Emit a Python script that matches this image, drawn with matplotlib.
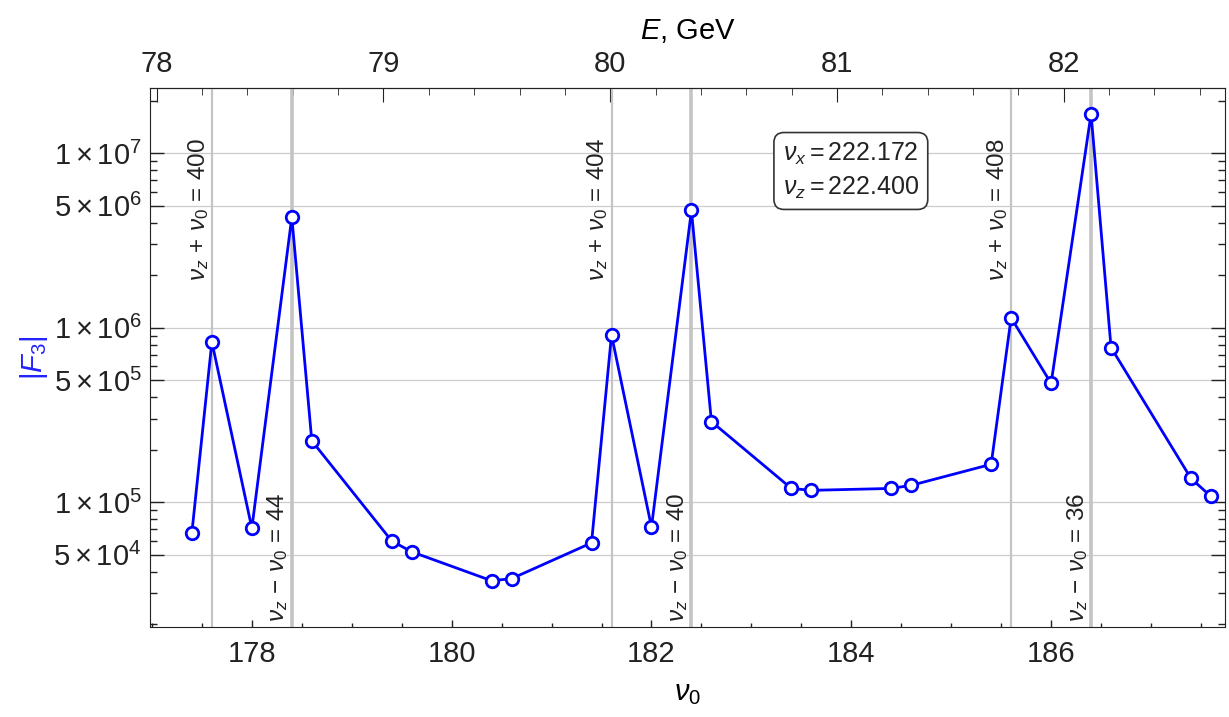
import numpy as np
import matplotlib
matplotlib.use('Agg')
from matplotlib import pyplot as plt
from matplotlib.ticker import FixedLocator, MultipleLocator, NullFormatter

plt.rcParams['font.family'] = ['Liberation Sans', 'DejaVu Sans']
plt.rcParams['mathtext.fontset'] = 'custom'
plt.rcParams['mathtext.rm'] = 'Liberation Sans'
plt.rcParams['mathtext.it'] = 'Liberation Sans:italic'

# spin tune nu0 and |F3|
nu0 = [177.4, 177.6, 178.0, 178.4, 178.6, 179.4, 179.6, 180.4, 180.6, 181.4,
       181.6, 182.0, 182.4, 182.6, 183.4, 183.6, 184.4, 184.6, 185.4, 185.6,
       186.0, 186.4, 186.6, 187.4, 187.6]
f3 = [6.7e4, 8.3e5, 7.1e4, 4.3e6, 2.25e5, 6.0e4, 5.2e4, 3.55e4, 3.65e4, 5.85e4,
      9.1e5, 7.2e4, 4.7e6, 2.9e5, 1.2e5, 1.17e5, 1.2e5, 1.25e5, 1.65e5, 1.14e6,
      4.8e5, 1.68e7, 7.7e5, 1.37e5, 1.08e5]

nu_x = 222.172
nu_z = 222.400
sums = [400, 404, 408]     # nu_z + nu0
diffs = [44, 40, 36]       # nu_z - nu0

gev_per_nu = 0.44056
e_ticks = [78, 79, 80, 81, 82]

fig = plt.figure(figsize=(12.29, 7.17), dpi=100)
ax = fig.add_axes([0.122, 0.1255, 0.8747, 0.7518])

ax.set_yscale('log')
ax.set_xlim(176.98, 187.74)
ax.set_ylim(10 ** 4.285, 10 ** 7.374)

# grid at labelled decades
yticks = [5e4, 1e5, 5e5, 1e6, 5e6, 1e7]
for y in yticks:
    ax.axhline(y, color='#cccccc', lw=0.9, zorder=0)

for s in sums:
    v = s - nu_z
    ax.axvline(v, color='#c4c4c4', lw=1.6, zorder=1)
    ax.text(v - 0.135, 0.775, r'$\nu_z\,+\,\nu_0\,=\,%d$' % s, rotation=90,
            transform=ax.get_xaxis_transform(), ha='center', va='center',
            fontsize=17.5, color='#222222')
for d in diffs:
    v = nu_z - d
    ax.axvline(v, color='#c4c4c4', lw=2.6, zorder=1)
    ax.text(v - 0.14, 0.13, r'$\nu_z\,-\,\nu_0\,=\,%d$' % d, rotation=90,
            transform=ax.get_xaxis_transform(), ha='center', va='center',
            fontsize=17.5, color='#222222')

ax.plot(nu0, f3, color='#0000ff', lw=2, marker='o', ms=9, mfc='white',
        mec='#0000ff', mew=2, zorder=3)

ax.text(0.652, 0.846, r'$\nu_x=%.3f$' % nu_x + '\n' + r'$\nu_z=%.3f$' % nu_z,
        transform=ax.transAxes, ha='center', va='center', fontsize=18,
        linespacing=1.35, color='#222222',
        bbox=dict(boxstyle='round,pad=0.35,rounding_size=0.4', fc='white',
                  ec='#333333', lw=1.2))

# y axis
ax.yaxis.set_major_locator(FixedLocator(yticks))
ax.set_yticklabels([r'$5\times10^{4}$', r'$1\times10^{5}$', r'$5\times10^{5}$',
                    r'$1\times10^{6}$', r'$5\times10^{6}$', r'$1\times10^{7}$'])
minor = [m * 10 ** e for e in range(4, 8) for m in range(2, 10)
         if m != 5 and 10 ** 4.285 < m * 10 ** e < 10 ** 7.374]
ax.yaxis.set_minor_locator(FixedLocator(minor))
ax.yaxis.set_minor_formatter(NullFormatter())

# bottom x axis
ax.xaxis.set_major_locator(MultipleLocator(2))
ax.xaxis.set_minor_locator(MultipleLocator(0.5))

ax.tick_params(which='both', direction='in', top=False, right=True,
               labelsize=21, colors='#222222', width=1)
ax.tick_params(axis='x', which='major', length=5, pad=9)
ax.tick_params(axis='x', which='minor', length=3)
ax.tick_params(axis='y', which='major', length=10, pad=6)
ax.tick_params(axis='y', which='minor', length=5)

ax.set_xlabel(r'$\nu_0$', fontsize=21, labelpad=8)
ax.set_ylabel(r'$|F_3|$', fontsize=21, color='#2222ff', labelpad=2)

# top axis: energy
top = ax.secondary_xaxis('top', functions=(lambda v: v * gev_per_nu,
                                           lambda e: e / gev_per_nu))
top.xaxis.set_major_locator(FixedLocator(e_ticks))
e_lo, e_hi = 176.98 * gev_per_nu, 187.74 * gev_per_nu
e_minor = [e for e in np.arange(77.0, 83.01, 0.2)
           if e_lo < e < e_hi and abs(e - round(e)) > 1e-6]
top.xaxis.set_minor_locator(FixedLocator(e_minor))
top.tick_params(which='both', direction='in', labelsize=21, colors='#222222')
top.tick_params(which='major', length=10, pad=7)
top.tick_params(which='minor', length=5)
top.set_xlabel(r'$E$, GeV', fontsize=21, labelpad=8)

for sp in ax.spines.values():
    sp.set_color('#222222')

plt.savefig('out.png', dpi=100)
